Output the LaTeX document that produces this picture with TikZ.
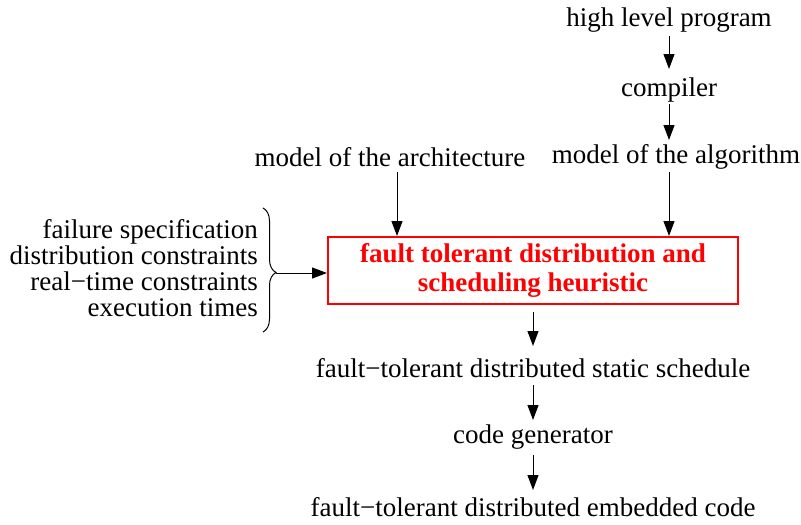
\documentclass[tikz,border=0pt]{standalone}
\usepackage{fontspec}
\setmainfont{Liberation Serif}
\newfontfamily\tms{Liberation Serif}
\usetikzlibrary{arrows.meta,decorations.pathreplacing}
\begin{document}
\begin{tikzpicture}[x=1pt,y=1pt,
  lbl/.style={inner sep=0pt,font=\tms\fontsize{27}{26}\selectfont},
  arr/.style={-{Triangle[length=15pt,width=11pt]},line width=1pt},
  mainbox/.style={draw=red,line width=2pt,text=red,minimum width=410pt,minimum height=67pt,inner sep=0pt,align=center,font=\tms\fontsize{27}{29}\selectfont\bfseries}]
\useasboundingbox (0,0) rectangle (801,-525);
\node[lbl] (hlp) at (669,-20) {high level program};
\node[lbl] (comp) at (669,-90) {compiler};
\node[lbl] (alg) at (676,-157) {model of the algorithm};
\node[lbl] (arch) at (390,-157) {model of the architecture};
\node[mainbox] (box) at (533,-270) {fault tolerant distribution and\\scheduling heuristic};
\node[lbl,align=right,anchor=east] (left) at (258,-268) {failure specification\\distribution constraints\\real−time constraints\\execution times};
\node[lbl] (sched) at (533,-368) {fault−tolerant distributed static schedule};
\node[lbl] (cgen) at (533,-437) {code generator};
\node[lbl] (emb) at (533,-507) {fault−tolerant distributed embedded code};
\coordinate (btop) at (263,-208);
\coordinate (bbot) at (263,-332);
\coordinate (btip) at (276,-273);
\draw[line width=1pt,decorate,decoration={brace,amplitude=13pt,aspect=0.52}] (btop) -- (bbot);
\draw[arr] (btip) -- (box.west |- btip);
\draw[arr] (669,-36) -- (669,-69);
\draw[arr] (669,-104) -- (669,-140);
\draw[arr] (397,-172) -- (397,-236);
\draw[arr] (669,-172) -- (669,-236);
\draw[arr] (533,-312) -- (533,-346);
\draw[arr] (533,-385) -- (533,-420);
\draw[arr] (533,-455) -- (533,-490);
\end{tikzpicture}
\end{document}
